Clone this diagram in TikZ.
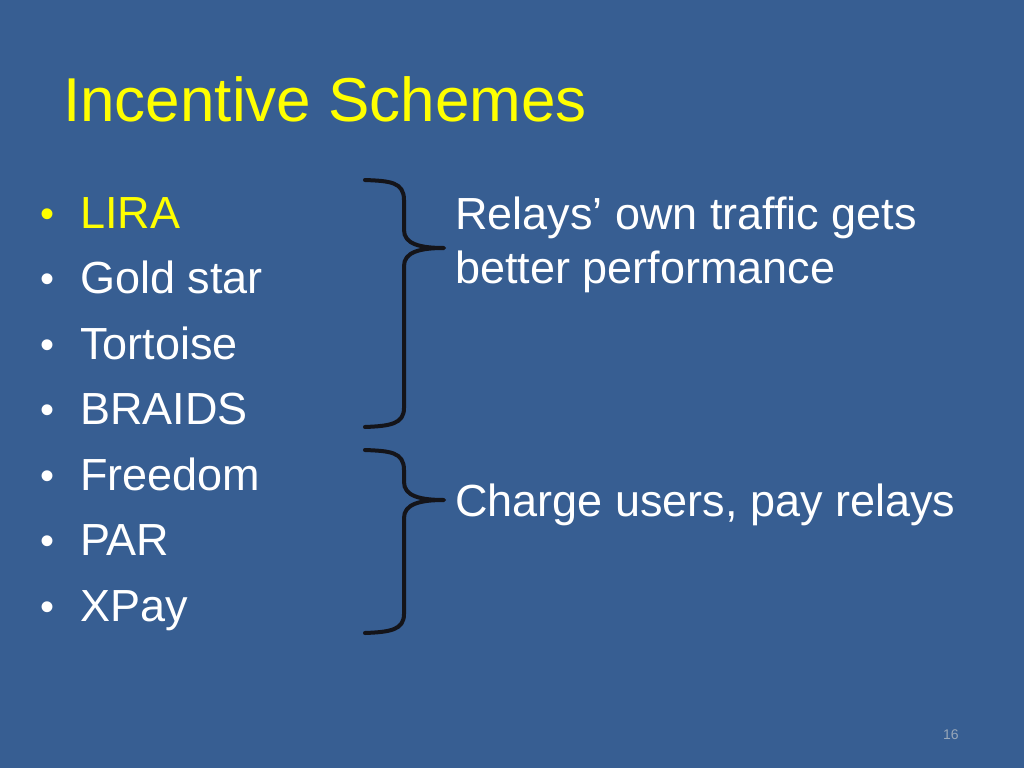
\documentclass[tikz,border=0pt]{standalone}
\usepackage{fontspec}
\setmainfont{Liberation Sans}
\definecolor{bg}{RGB}{55,94,146}
\definecolor{ttl}{RGB}{255,255,0}
\definecolor{brc}{RGB}{20,20,25}
\begin{document}
\begin{tikzpicture}[x=1pt,y=-1pt,
  txt/.style={anchor=base west,inner sep=0pt,text=white,font=\fontsize{45}{45}\selectfont},
  bul/.style={anchor=base west,inner sep=0pt,text=white,font=\fontsize{40}{40}\selectfont},
  brace/.style={draw=brc,line width=4pt,line cap=round,line join=round}]
\fill[bg] (0,0) rectangle (1024,768);
\useasboundingbox (0,0) rectangle (1024,768);
\node[anchor=base west,inner sep=0pt,text=ttl,font=\fontsize{62}{62}\selectfont] (title) at (63,121) {Incentive Schemes};
\foreach \t/\c [count=\i] in {LIRA/ttl,Gold star/white,Tortoise/white,BRAIDS/white,Freedom/white,PAR/white,XPay/white}{
  \node[bul,text=\c] (b\i) at (40,{227+(\i-1)*65.5}) {•};
  \node[txt,text=\c] (t\i) at (80,{228+(\i-1)*65.5}) {\t};
}
\draw[brace] (365,180) .. controls (390,181) and (404,182) .. (404,200) -- (404,230)
  .. controls (404,244) and (420,248) .. (444,248)
  .. controls (420,248) and (404,252) .. (404,266) -- (404,408)
  .. controls (404,424) and (390,426) .. (365,427);
\draw[brace] (365,450) .. controls (390,451) and (404,452) .. (404,470) -- (404,482)
  .. controls (404,496) and (420,500) .. (444,500)
  .. controls (420,500) and (404,504) .. (404,518) -- (404,614)
  .. controls (404,630) and (390,632) .. (365,633);
\node[txt] (r1) at (455,229) {Relays’ own traffic gets};
\node[txt] (r2) at (455,283) {better performance};
\node[txt] (r3) at (455,516) {Charge users, pay relays};
\node[anchor=base west,inner sep=0pt,text=gray!40!bg!60!white,font=\fontsize{14}{14}\selectfont] (pg) at (943,739) {16};
\end{tikzpicture}
\end{document}
